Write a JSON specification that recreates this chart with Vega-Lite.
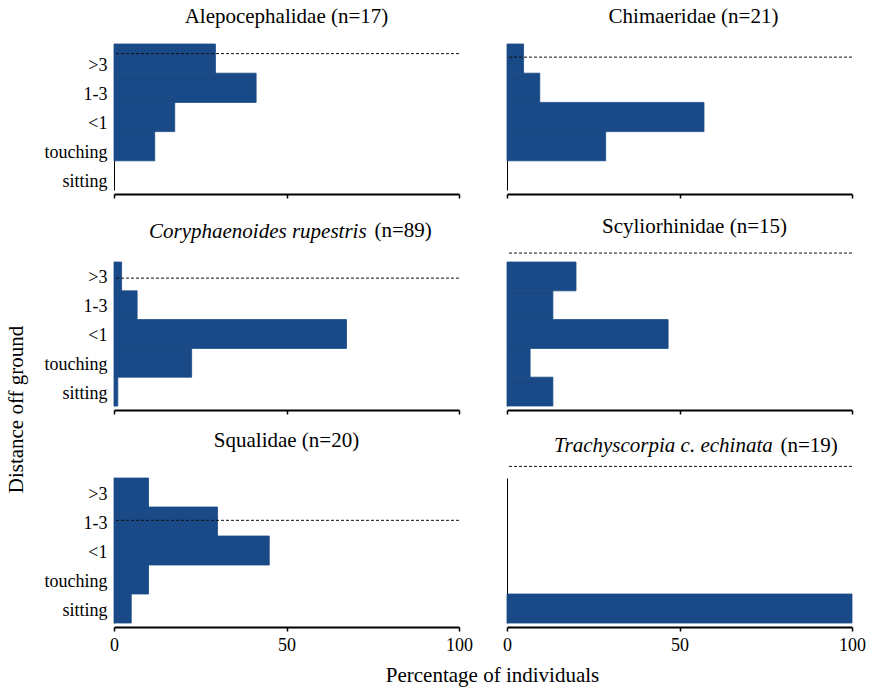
{
  "$schema": "https://vega.github.io/schema/vega-lite/v6.json",
  "padding": {"left": 5, "top": 5, "right": 5, "bottom": 5},
  "background": "white",
  "datasets": {
    "bars": [
      {"family": "Alepocephalidae", "distance": ">3", "percent": 29.4},
      {"family": "Alepocephalidae", "distance": "1-3", "percent": 41.2},
      {"family": "Alepocephalidae", "distance": "<1", "percent": 17.6},
      {"family": "Alepocephalidae", "distance": "touching", "percent": 11.8},
      {"family": "Alepocephalidae", "distance": "sitting", "percent": 0},
      {"family": "Chimaeridae", "distance": ">3", "percent": 4.8},
      {"family": "Chimaeridae", "distance": "1-3", "percent": 9.5},
      {"family": "Chimaeridae", "distance": "<1", "percent": 57.1},
      {"family": "Chimaeridae", "distance": "touching", "percent": 28.6},
      {"family": "Chimaeridae", "distance": "sitting", "percent": 0},
      {"family": "Coryphaenoides rupestris", "distance": ">3", "percent": 2.2},
      {"family": "Coryphaenoides rupestris", "distance": "1-3", "percent": 6.7},
      {"family": "Coryphaenoides rupestris", "distance": "<1", "percent": 67.4},
      {"family": "Coryphaenoides rupestris", "distance": "touching", "percent": 22.5},
      {"family": "Coryphaenoides rupestris", "distance": "sitting", "percent": 1.1},
      {"family": "Scyliorhinidae", "distance": ">3", "percent": 20.0},
      {"family": "Scyliorhinidae", "distance": "1-3", "percent": 13.3},
      {"family": "Scyliorhinidae", "distance": "<1", "percent": 46.7},
      {"family": "Scyliorhinidae", "distance": "touching", "percent": 6.7},
      {"family": "Scyliorhinidae", "distance": "sitting", "percent": 13.3},
      {"family": "Squalidae", "distance": ">3", "percent": 10},
      {"family": "Squalidae", "distance": "1-3", "percent": 30},
      {"family": "Squalidae", "distance": "<1", "percent": 45},
      {"family": "Squalidae", "distance": "touching", "percent": 10},
      {"family": "Squalidae", "distance": "sitting", "percent": 5},
      {"family": "Trachyscorpia c. echinata", "distance": ">3", "percent": 0},
      {"family": "Trachyscorpia c. echinata", "distance": "1-3", "percent": 0},
      {"family": "Trachyscorpia c. echinata", "distance": "<1", "percent": 0},
      {"family": "Trachyscorpia c. echinata", "distance": "touching", "percent": 0},
      {"family": "Trachyscorpia c. echinata", "distance": "sitting", "percent": 100}
    ],
    "lines": [
      {"family": "Alepocephalidae", "level": 4.17},
      {"family": "Chimaeridae", "level": 4.05},
      {"family": "Coryphaenoides rupestris", "level": 3.94},
      {"family": "Scyliorhinidae", "level": 4.81},
      {"family": "Squalidae", "level": 3.04},
      {"family": "Trachyscorpia c. echinata", "level": 4.9}
    ]
  },
  "columns": 2,
  "bounds": "flush",
  "spacing": {"row": 72, "column": 48},
  "concat": [
    {
      "width": 345, "height": 146,
      "title": {"text": "Alepocephalidae (n=17)", "anchor": "middle", "dx": 0, "offset": 17},
      "layer": [
        {
          "data": {"name": "bars"},
          "transform": [{"filter": "datum.family === 'Alepocephalidae'"}],
          "mark": {"type": "bar", "color": "#194a87", "stroke": "#194a87", "strokeWidth": 0.8},
          "encoding": {
            "y": {"field": "distance", "type": "nominal", "sort": [">3", "1-3", "<1", "touching", "sitting"], "scale": {"paddingInner": 0, "paddingOuter": 0}, "axis": {"title": null, "labelOffset": 7}},
            "x": {"field": "percent", "type": "quantitative", "scale": {"domain": [0, 100]}, "axis": {"values": [0, 50, 100], "labels": false, "title": null}},
            "strokeOpacity": {"condition": {"test": "datum.percent > 0", "value": 1}, "value": 0}
          }
        },
        {
          "data": {"name": "lines"},
          "transform": [{"filter": "datum.family === 'Alepocephalidae'"}],
          "mark": {"type": "rule", "strokeDash": [3, 2], "color": "#111", "strokeWidth": 1},
          "encoding": {"y": {"field": "level", "type": "quantitative", "scale": {"domain": [-0.5, 4.5]}, "axis": null}}
        }
      ],
      "resolve": {"scale": {"y": "independent"}}
    },
    {
      "width": 345, "height": 146,
      "title": {"text": "Chimaeridae (n=21)", "anchor": "middle", "dx": 14, "offset": 17},
      "layer": [
        {
          "data": {"name": "bars"},
          "transform": [{"filter": "datum.family === 'Chimaeridae'"}],
          "mark": {"type": "bar", "color": "#194a87", "stroke": "#194a87", "strokeWidth": 0.8},
          "encoding": {
            "y": {"field": "distance", "type": "nominal", "sort": [">3", "1-3", "<1", "touching", "sitting"], "scale": {"paddingInner": 0, "paddingOuter": 0}, "axis": {"title": null, "labels": false}},
            "x": {"field": "percent", "type": "quantitative", "scale": {"domain": [0, 100]}, "axis": {"values": [0, 50, 100], "labels": false, "title": null}},
            "strokeOpacity": {"condition": {"test": "datum.percent > 0", "value": 1}, "value": 0}
          }
        },
        {
          "data": {"name": "lines"},
          "transform": [{"filter": "datum.family === 'Chimaeridae'"}],
          "mark": {"type": "rule", "strokeDash": [3, 2], "color": "#111", "strokeWidth": 1},
          "encoding": {"y": {"field": "level", "type": "quantitative", "scale": {"domain": [-0.5, 4.5]}, "axis": null}}
        }
      ],
      "resolve": {"scale": {"y": "independent"}}
    },
    {
      "width": 345, "height": 144,
      "title": {"text": "Coryphaenoides rupestris", "fontStyle": "italic", "anchor": "start", "dx": 35, "offset": -23},
      "layer": [
        {
          "data": {"name": "bars"},
          "transform": [{"filter": "datum.family === 'Coryphaenoides rupestris'"}],
          "mark": {"type": "bar", "color": "#194a87", "stroke": "#194a87", "strokeWidth": 0.8},
          "encoding": {
            "y": {"field": "distance", "type": "nominal", "sort": [">3", "1-3", "<1", "touching", "sitting"], "scale": {"paddingInner": 0, "paddingOuter": 0}, "axis": {"title": "Distance off ground", "labelOffset": 2, "titleX": -98, "titleY": 147, "titleBaseline": "middle", "titleAlign": "center"}},
            "x": {"field": "percent", "type": "quantitative", "scale": {"domain": [0, 100]}, "axis": {"values": [0, 50, 100], "labels": false, "title": null}},
            "strokeOpacity": {"condition": {"test": "datum.percent > 0", "value": 1}, "value": 0}
          }
        },
        {
          "data": {"name": "lines"},
          "transform": [{"filter": "datum.family === 'Coryphaenoides rupestris'"}],
          "mark": {"type": "rule", "strokeDash": [3, 2], "color": "#111", "strokeWidth": 1},
          "encoding": {"y": {"field": "level", "type": "quantitative", "scale": {"domain": [-0.5, 4.5]}, "axis": {"orient": "right", "labels": false, "ticks": false, "domain": false, "title": "(n=89)", "titleAngle": 0, "titleX": -85, "titleY": -26, "titleAlign": "left", "titleBaseline": "alphabetic"}}}
        }
      ],
      "resolve": {"scale": {"y": "independent"}}
    },
    {
      "width": 345, "height": 144,
      "title": {"text": "Scyliorhinidae (n=15)", "anchor": "middle", "dx": 15, "offset": 16},
      "layer": [
        {
          "data": {"name": "bars"},
          "transform": [{"filter": "datum.family === 'Scyliorhinidae'"}],
          "mark": {"type": "bar", "color": "#194a87", "stroke": "#194a87", "strokeWidth": 0.8},
          "encoding": {
            "y": {"field": "distance", "type": "nominal", "sort": [">3", "1-3", "<1", "touching", "sitting"], "scale": {"paddingInner": 0, "paddingOuter": 0}, "axis": {"title": null, "labels": false}},
            "x": {"field": "percent", "type": "quantitative", "scale": {"domain": [0, 100]}, "axis": {"values": [0, 50, 100], "labels": false, "title": null}},
            "strokeOpacity": {"condition": {"test": "datum.percent > 0", "value": 1}, "value": 0}
          }
        },
        {
          "data": {"name": "lines"},
          "transform": [{"filter": "datum.family === 'Scyliorhinidae'"}],
          "mark": {"type": "rule", "strokeDash": [3, 2], "color": "#111", "strokeWidth": 1},
          "encoding": {"y": {"field": "level", "type": "quantitative", "scale": {"domain": [-0.5, 4.5]}, "axis": null}}
        }
      ],
      "resolve": {"scale": {"y": "independent"}}
    },
    {
      "width": 345, "height": 145,
      "title": {"text": "Squalidae (n=20)", "anchor": "middle", "dx": 0, "offset": 27},
      "layer": [
        {
          "data": {"name": "bars"},
          "transform": [{"filter": "datum.family === 'Squalidae'"}],
          "mark": {"type": "bar", "color": "#194a87", "stroke": "#194a87", "strokeWidth": 0.8},
          "encoding": {
            "y": {"field": "distance", "type": "nominal", "sort": [">3", "1-3", "<1", "touching", "sitting"], "scale": {"paddingInner": 0, "paddingOuter": 0}, "axis": {"title": null, "labelOffset": 2}},
            "x": {"field": "percent", "type": "quantitative", "scale": {"domain": [0, 100]}, "axis": {"values": [0, 50, 100], "labels": true, "title": "Percentage of individuals", "titleX": 378, "titleY": 54, "titleBaseline": "alphabetic", "titleAlign": "center"}},
            "strokeOpacity": {"condition": {"test": "datum.percent > 0", "value": 1}, "value": 0}
          }
        },
        {
          "data": {"name": "lines"},
          "transform": [{"filter": "datum.family === 'Squalidae'"}],
          "mark": {"type": "rule", "strokeDash": [3, 2], "color": "#111", "strokeWidth": 1},
          "encoding": {"y": {"field": "level", "type": "quantitative", "scale": {"domain": [-0.5, 4.5]}, "axis": null}}
        }
      ],
      "resolve": {"scale": {"y": "independent"}}
    },
    {
      "width": 345, "height": 145,
      "title": {"text": "Trachyscorpia c. echinata", "fontStyle": "italic", "anchor": "start", "dx": 47, "offset": -22},
      "layer": [
        {
          "data": {"name": "bars"},
          "transform": [{"filter": "datum.family === 'Trachyscorpia c. echinata'"}],
          "mark": {"type": "bar", "color": "#194a87", "stroke": "#194a87", "strokeWidth": 0.8},
          "encoding": {
            "y": {"field": "distance", "type": "nominal", "sort": [">3", "1-3", "<1", "touching", "sitting"], "scale": {"paddingInner": 0, "paddingOuter": 0}, "axis": {"title": null, "labels": false}},
            "x": {"field": "percent", "type": "quantitative", "scale": {"domain": [0, 100]}, "axis": {"values": [0, 50, 100], "labels": true, "title": null}},
            "strokeOpacity": {"condition": {"test": "datum.percent > 0", "value": 1}, "value": 0}
          }
        },
        {
          "data": {"name": "lines"},
          "transform": [{"filter": "datum.family === 'Trachyscorpia c. echinata'"}],
          "mark": {"type": "rule", "strokeDash": [3, 2], "color": "#111", "strokeWidth": 1},
          "encoding": {"y": {"field": "level", "type": "quantitative", "scale": {"domain": [-0.5, 4.5]}, "axis": {"orient": "right", "labels": false, "ticks": false, "domain": false, "title": "(n=19)", "titleAngle": 0, "titleX": -72, "titleY": -27, "titleAlign": "left", "titleBaseline": "alphabetic"}}}
        }
      ],
      "resolve": {"scale": {"y": "independent"}}
    }
  ],
  "config": {
    "view": {"stroke": null},
    "font": "Liberation Serif",
    "title": {"font": "Liberation Serif", "fontSize": 21, "fontWeight": "normal", "color": "#000", "frame": "group", "baseline": "alphabetic"},
    "axis": {
      "grid": false,
      "labelFont": "Liberation Serif", "labelFontSize": 18, "labelColor": "#000",
      "titleFont": "Liberation Serif", "titleFontSize": 21, "titleFontWeight": "normal", "titleColor": "#000",
      "domainColor": "#000", "tickColor": "#000", "labelFlush": false
    },
    "axisX": {"offset": 4, "domainWidth": 2, "tickWidth": 1.5, "tickSize": 4, "labelPadding": 5},
    "axisY": {"ticks": false, "tickSize": 0, "labelPadding": 7, "domainWidth": 1}
  }
}
